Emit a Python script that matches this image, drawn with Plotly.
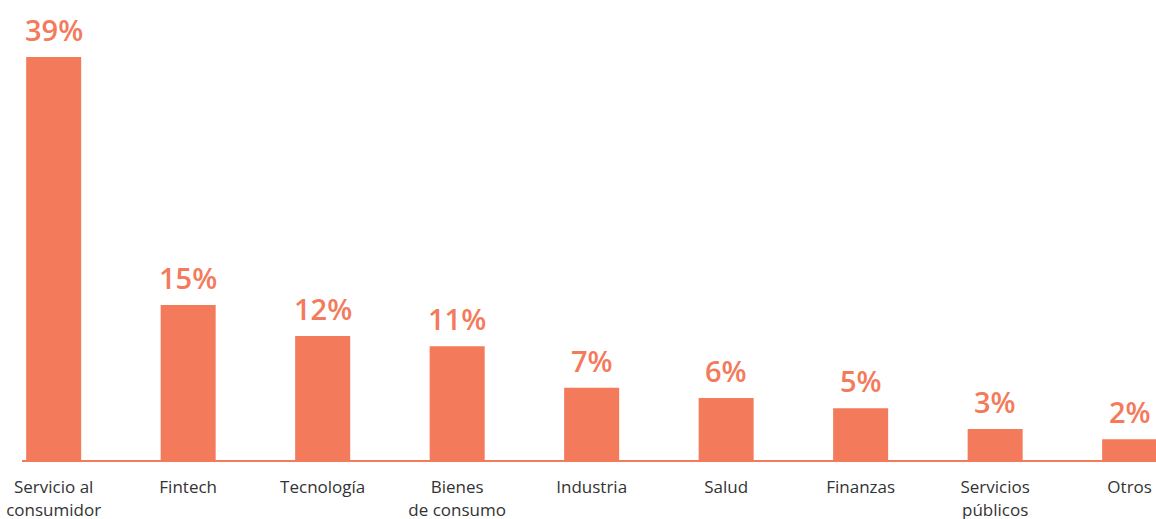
import plotly.graph_objects as go

categories = ["Servicio al<br>consumidor", "Fintech", "Tecnología", "Bienes<br>de consumo",
              "Industria", "Salud", "Finanzas", "Servicios<br>públicos", "Otros"]
values = [39, 15, 12, 11, 7, 6, 5, 3, 2]
labels = [f"{v}%" for v in values]

ORANGE = "#F47A5C"

fig = go.Figure()
fig.add_trace(go.Bar(
    x=list(range(len(categories))), y=values,
    marker=dict(color=ORANGE, line=dict(width=0)),
    width=0.409,
    hoverinfo="skip",
))

for i, (v, t) in enumerate(zip(values, labels)):
    fig.add_annotation(x=i, y=v, text=t, showarrow=False, yanchor="bottom",
                       yshift=6, font=dict(family="Open Sans", size=29, color=ORANGE, weight=600))

fig.update_layout(
    width=1156, height=519,
    margin=dict(l=22, r=0, t=57, b=59),
    plot_bgcolor="white", paper_bgcolor="white",
    showlegend=False,
    xaxis=dict(
        range=[-0.2355, 8.196],
        automargin=False,
        tickmode="array", tickvals=list(range(len(categories))), ticktext=categories,
        showgrid=False, zeroline=False,
        showline=True, linecolor=ORANGE, linewidth=2,
        ticks="outside", ticklen=11, tickcolor="rgba(0,0,0,0)",
        tickfont=dict(family="Open Sans", size=17, color="#333333"),
        fixedrange=True,
    ),
    yaxis=dict(range=[0, 39], visible=False, fixedrange=True, automargin=False),
)

fig.write_html("out.html", config={"displayModeBar": False},
               post_script="document.body.style.margin='0';document.body.style.padding='0';")
